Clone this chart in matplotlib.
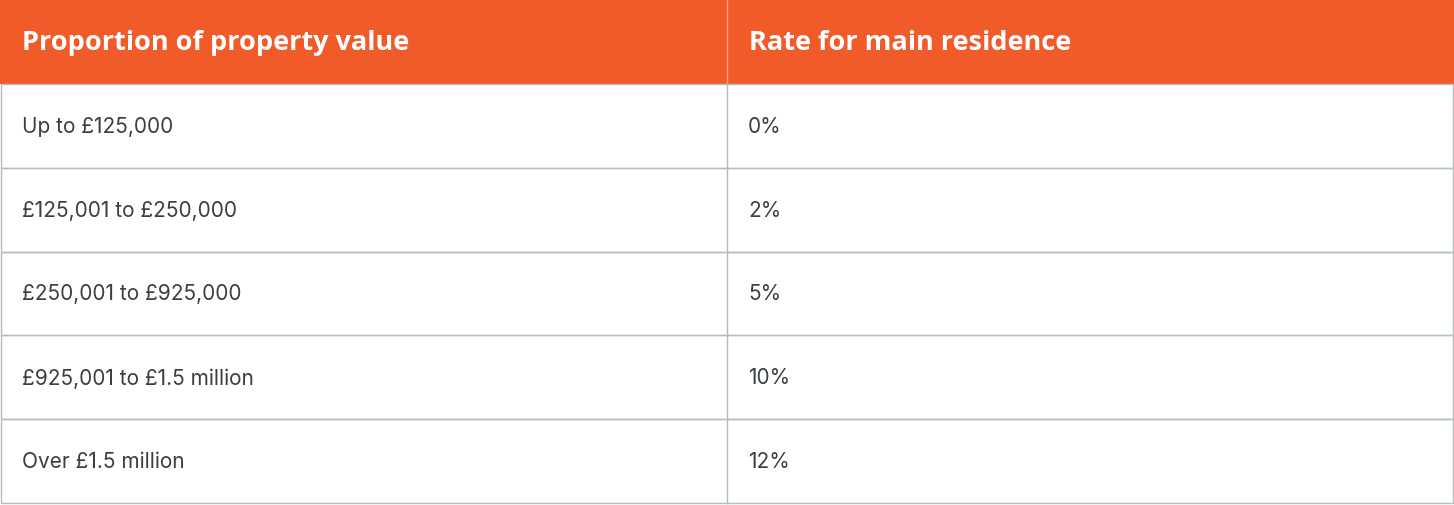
import matplotlib
matplotlib.use("Agg")
import matplotlib.pyplot as plt
from matplotlib.patches import Rectangle

headers = ["Proportion of property value", "Rate for main residence"]
bands = ["Up to £125,000", "£125,001 to £250,000", "£250,001 to £925,000",
         "£925,001 to £1.5 million", "Over £1.5 million"]
rates = ["0%", "2%", "5%", "10%", "12%"]

W, H = 1454, 506
fig = plt.figure(figsize=(W / 100, H / 100), dpi=100)
ax = fig.add_axes([0, 0, 1, 1])
ax.set_xlim(0, W)
ax.set_ylim(H, 0)
ax.axis("off")

orange = "#F15A29"
border = "#B3BCC0"
txt = "#3A3F44"
col_x = [0, 727, W - 1]
head_h = 85
row_h = (H - 2 - head_h) / len(bands)

# header
ax.add_patch(Rectangle((0, 0), W, head_h, color=orange, lw=0))
ax.plot([727, 727], [0, head_h], color="#F7A585", lw=1)
for i, h in enumerate(headers):
    ax.text(col_x[i] + 22, head_h / 2, h, color="white", fontsize=19.5,
            fontweight="bold", va="center", ha="left", family="Open Sans")

# body rows
for r, (b, rt) in enumerate(zip(bands, rates)):
    y0 = head_h + r * row_h
    ax.add_patch(Rectangle((0.5, y0), W - 1.5, row_h, fill=False,
                           edgecolor=border, lw=1))
    ax.plot([727, 727], [y0, y0 + row_h], color=border, lw=1)
    yc = y0 + row_h / 2
    ax.text(22, yc, b, color=txt, fontsize=15, va="center", ha="left", family="Inter")
    ax.text(748, yc, rt, color=txt, fontsize=15, va="center", ha="left", family="Inter")

fig.savefig("out.png", dpi=100)
